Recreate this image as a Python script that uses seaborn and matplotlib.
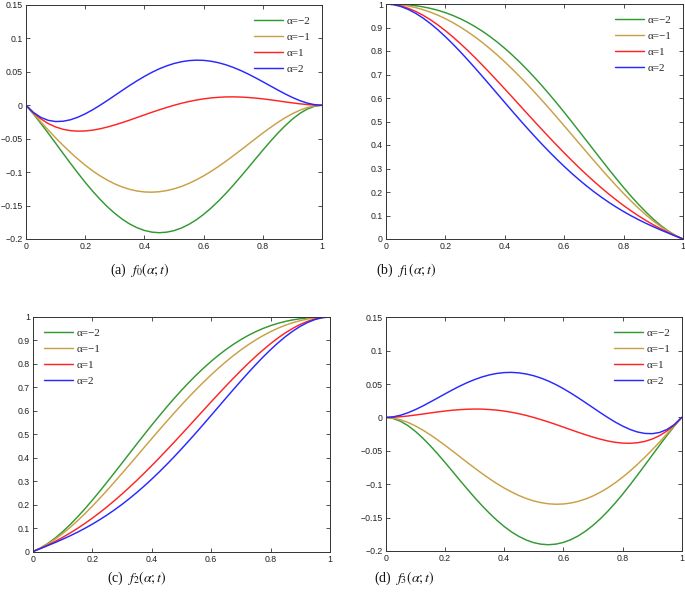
import matplotlib
matplotlib.use("Agg")
import matplotlib.pyplot as plt
import numpy as np
import pandas as pd
import seaborn as sns

# ---------------- data ----------------
t = [0, 0.025, 0.05, 0.075, 0.1, 0.125, 0.15, 0.175, 0.2, 0.225, 0.25,
     0.275, 0.3, 0.325, 0.35, 0.375, 0.4, 0.425, 0.45, 0.475, 0.5,
     0.525, 0.55, 0.575, 0.6, 0.625, 0.65, 0.675, 0.7, 0.725, 0.75,
     0.775, 0.8, 0.825, 0.85, 0.875, 0.9, 0.925, 0.95, 0.975, 1]

alpha_labels = ["α=−2", "α=−1", "α=1", "α=2"]
colors = ["#339933", "#c9a045", "#ff2424", "#2828ff"]

# (a) f0(alpha; t)
f0_m2 = [0, -0.0131, -0.0271, -0.0417, -0.0567, -0.0718, -0.0867, -0.1012, -0.1152, -0.1284, -0.1406,
         -0.1518, -0.1617, -0.1703, -0.1775, -0.1831, -0.1872, -0.1897, -0.1906, -0.1898, -0.1875,
         -0.1836, -0.1782, -0.1714, -0.1632, -0.1538, -0.1433, -0.1319, -0.1197, -0.1069, -0.0938,
         -0.0804, -0.0672, -0.0543, -0.0421, -0.0308, -0.0207, -0.0122, -0.0057, -0.0015, 0]
f0_m1 = [0, -0.0125, -0.0248, -0.0369, -0.0486, -0.0598, -0.0704, -0.0804, -0.0896, -0.0980, -0.1055,
         -0.1120, -0.1176, -0.1222, -0.1257, -0.1282, -0.1296, -0.1300, -0.1293, -0.1276, -0.125,
         -0.1214, -0.1169, -0.1116, -0.1056, -0.0989, -0.0916, -0.0838, -0.0756, -0.0672, -0.0586,
         -0.0500, -0.0416, -0.0335, -0.0258, -0.0188, -0.0126, -0.0074, -0.0034, -0.0009, 0]
f0_p1 = [0, -0.0113, -0.0203, -0.0273, -0.0324, -0.0359, -0.0379, -0.0387, -0.0384, -0.0372, -0.0352,
         -0.0325, -0.0294, -0.0259, -0.0222, -0.0183, -0.0144, -0.0105, -0.0068, -0.0033, 0,
         0.0030, 0.0056, 0.0078, 0.0096, 0.0110, 0.0119, 0.0125, 0.0126, 0.0123, 0.0117,
         0.0108, 0.0096, 0.0082, 0.0067, 0.0051, 0.0036, 0.0022, 0.0011, 0.0003, 0]
f0_p2 = [0, -0.0107, -0.0181, -0.0225, -0.0243, -0.0239, -0.0217, -0.0179, -0.0128, -0.0068, 0,
         0.0072, 0.0147, 0.0222, 0.0296, 0.0366, 0.0432, 0.0492, 0.0545, 0.0589, 0.0625,
         0.0651, 0.0668, 0.0675, 0.0672, 0.0659, 0.0637, 0.0606, 0.0567, 0.0521, 0.0469,
         0.0412, 0.0352, 0.0291, 0.0230, 0.0171, 0.0117, 0.0070, 0.0033, 0.0009, 0]

# (b) f1(alpha; t)
f1_m2 = [1, 0.9996, 0.9985, 0.9962, 0.9927, 0.9878, 0.9813, 0.9732, 0.9632, 0.9513, 0.9375,
         0.9216, 0.9037, 0.8837, 0.8616, 0.8374, 0.8112, 0.7830, 0.7530, 0.7211, 0.6875,
         0.6524, 0.6158, 0.5780, 0.5392, 0.4995, 0.4592, 0.4185, 0.3777, 0.3371, 0.2969,
         0.2575, 0.2192, 0.1824, 0.1475, 0.1147, 0.0847, 0.0577, 0.0343, 0.0149, 0]
f1_m1 = [1, 0.9991, 0.9962, 0.9914, 0.9846, 0.9758, 0.9651, 0.9523, 0.9376, 0.9209, 0.9023,
         0.8819, 0.8596, 0.8356, 0.8098, 0.7825, 0.7536, 0.7233, 0.6917, 0.6589, 0.625,
         0.5902, 0.5546, 0.5183, 0.4816, 0.4446, 0.4074, 0.3704, 0.3336, 0.2973, 0.2617,
         0.2271, 0.1936, 0.1616, 0.1312, 0.1028, 0.0766, 0.0529, 0.0321, 0.0143, 0]
f1_p1 = [1, 0.9979, 0.9917, 0.9818, 0.9684, 0.9519, 0.9326, 0.9106, 0.8864, 0.8601, 0.8320,
         0.8024, 0.7714, 0.7393, 0.7063, 0.6726, 0.6384, 0.6039, 0.5692, 0.5345, 0.5,
         0.4658, 0.4321, 0.3989, 0.3664, 0.3347, 0.3039, 0.2741, 0.2454, 0.2178, 0.1914,
         0.1663, 0.1424, 0.1199, 0.0987, 0.0789, 0.0604, 0.0433, 0.0276, 0.0131, 0]
f1_p2 = [1, 0.9973, 0.9894, 0.9769, 0.9603, 0.9399, 0.9163, 0.8898, 0.8608, 0.8297, 0.7969,
         0.7626, 0.7273, 0.6912, 0.6546, 0.6177, 0.5808, 0.5441, 0.5079, 0.4723, 0.4375,
         0.4036, 0.3708, 0.3392, 0.3088, 0.2798, 0.2522, 0.2260, 0.2013, 0.1781, 0.1563,
         0.1359, 0.1168, 0.0990, 0.0824, 0.0669, 0.0523, 0.0385, 0.0253, 0.0125, 0]

# (c) f2(alpha; t)
f2_m2 = [0, 0.0149, 0.0343, 0.0577, 0.0847, 0.1147, 0.1475, 0.1824, 0.2192, 0.2575, 0.2969,
         0.3371, 0.3777, 0.4185, 0.4592, 0.4995, 0.5392, 0.5780, 0.6158, 0.6524, 0.6875,
         0.7211, 0.7530, 0.7830, 0.8112, 0.8374, 0.8616, 0.8837, 0.9037, 0.9216, 0.9375,
         0.9513, 0.9632, 0.9732, 0.9813, 0.9878, 0.9927, 0.9962, 0.9985, 0.9996, 1]
f2_m1 = [0, 0.0143, 0.0321, 0.0529, 0.0766, 0.1028, 0.1312, 0.1616, 0.1936, 0.2271, 0.2617,
         0.2973, 0.3336, 0.3704, 0.4074, 0.4446, 0.4816, 0.5183, 0.5546, 0.5902, 0.625,
         0.6589, 0.6917, 0.7233, 0.7536, 0.7825, 0.8098, 0.8356, 0.8596, 0.8819, 0.9023,
         0.9209, 0.9376, 0.9523, 0.9651, 0.9758, 0.9846, 0.9914, 0.9962, 0.9991, 1]
f2_p1 = [0, 0.0131, 0.0276, 0.0433, 0.0604, 0.0789, 0.0987, 0.1199, 0.1424, 0.1663, 0.1914,
         0.2178, 0.2454, 0.2741, 0.3039, 0.3347, 0.3664, 0.3989, 0.4321, 0.4658, 0.5,
         0.5345, 0.5692, 0.6039, 0.6384, 0.6726, 0.7063, 0.7393, 0.7714, 0.8024, 0.8320,
         0.8601, 0.8864, 0.9106, 0.9326, 0.9519, 0.9684, 0.9818, 0.9917, 0.9979, 1]
f2_p2 = [0, 0.0125, 0.0253, 0.0385, 0.0523, 0.0669, 0.0824, 0.0990, 0.1168, 0.1359, 0.1563,
         0.1781, 0.2013, 0.2260, 0.2522, 0.2798, 0.3088, 0.3392, 0.3708, 0.4036, 0.4375,
         0.4723, 0.5079, 0.5441, 0.5808, 0.6177, 0.6546, 0.6912, 0.7273, 0.7626, 0.7969,
         0.8297, 0.8608, 0.8898, 0.9163, 0.9399, 0.9603, 0.9769, 0.9894, 0.9973, 1]

# (d) f3(alpha; t)
f3_m2 = [0, -0.0015, -0.0057, -0.0122, -0.0207, -0.0308, -0.0421, -0.0543, -0.0672, -0.0804, -0.0938,
         -0.1069, -0.1197, -0.1319, -0.1433, -0.1538, -0.1632, -0.1714, -0.1782, -0.1836, -0.1875,
         -0.1898, -0.1906, -0.1897, -0.1872, -0.1831, -0.1775, -0.1703, -0.1617, -0.1518, -0.1406,
         -0.1284, -0.1152, -0.1012, -0.0867, -0.0718, -0.0567, -0.0417, -0.0271, -0.0131, 0]
f3_m1 = [0, -0.0009, -0.0034, -0.0074, -0.0126, -0.0188, -0.0258, -0.0335, -0.0416, -0.0500, -0.0586,
         -0.0672, -0.0756, -0.0838, -0.0916, -0.0989, -0.1056, -0.1116, -0.1169, -0.1214, -0.125,
         -0.1276, -0.1293, -0.1300, -0.1296, -0.1282, -0.1257, -0.1222, -0.1176, -0.1120, -0.1055,
         -0.0980, -0.0896, -0.0804, -0.0704, -0.0598, -0.0486, -0.0369, -0.0248, -0.0125, 0]
f3_p1 = [0, 0.0003, 0.0011, 0.0022, 0.0036, 0.0051, 0.0067, 0.0082, 0.0096, 0.0108, 0.0117,
         0.0123, 0.0126, 0.0125, 0.0119, 0.0110, 0.0096, 0.0078, 0.0056, 0.0030, 0,
         -0.0033, -0.0068, -0.0105, -0.0144, -0.0183, -0.0222, -0.0259, -0.0294, -0.0325, -0.0352,
         -0.0372, -0.0384, -0.0387, -0.0379, -0.0359, -0.0324, -0.0273, -0.0203, -0.0113, 0]
f3_p2 = [0, 0.0009, 0.0033, 0.0070, 0.0117, 0.0171, 0.0230, 0.0291, 0.0352, 0.0412, 0.0469,
         0.0521, 0.0567, 0.0606, 0.0637, 0.0659, 0.0672, 0.0675, 0.0668, 0.0651, 0.0625,
         0.0589, 0.0545, 0.0492, 0.0432, 0.0366, 0.0296, 0.0222, 0.0147, 0.0072, 0,
         -0.0068, -0.0128, -0.0179, -0.0217, -0.0239, -0.0243, -0.0225, -0.0181, -0.0107, 0]

xticks = [0, 0.2, 0.4, 0.6, 0.8, 1]
xtick_labels = ["0", "0.2", "0.4", "0.6", "0.8", "1"]
yticks_small = [-0.2, -0.15, -0.1, -0.05, 0, 0.05, 0.1, 0.15]
ytick_labels_small = ["−0.2", "−0.15", "−0.1", "−0.05", "0", "0.05", "0.1", "0.15"]
yticks_unit = [0, 0.1, 0.2, 0.3, 0.4, 0.5, 0.6, 0.7, 0.8, 0.9, 1]
ytick_labels_unit = ["0", "0.1", "0.2", "0.3", "0.4", "0.5", "0.6", "0.7", "0.8", "0.9", "1"]

captions = [r"(a)  $f_0(\alpha;t)$", r"(b)  $f_1(\alpha;t)$",
            r"(c)  $f_2(\alpha;t)$", r"(d)  $f_3(\alpha;t)$"]

# ---------------- styling ----------------
sns.set_theme(style="ticks")
plt.rcParams["font.family"] = ["Liberation Sans", "DejaVu Sans"]
plt.rcParams["mathtext.fontset"] = "stix"
plt.rcParams["axes.linewidth"] = 0.7
plt.rcParams["axes.edgecolor"] = "#333333"

fig = plt.figure(figsize=(6.85, 6.01), dpi=100)

W, H = 685.0, 601.0
def pos(left, top, right, bottom):
    return [left / W, (H - bottom) / H, (right - left) / W, (bottom - top) / H]

panels = [
    dict(series=[f0_m2, f0_m1, f0_p1, f0_p2], box=pos(26, 5, 322, 239),
         ylim=(-0.2, 0.15), yt=yticks_small, ytl=ytick_labels_small,
         leg=dict(loc="upper right", bbox_to_anchor=(1.0, 1.0)),
         cpos=(140, 270)),
    dict(series=[f1_m2, f1_m1, f1_p1, f1_p2], box=pos(386, 4, 683, 239),
         ylim=(0, 1), yt=yticks_unit, ytl=ytick_labels_unit,
         leg=dict(loc="upper right", bbox_to_anchor=(1.0, 1.0)),
         cpos=(406, 270)),
    dict(series=[f2_m2, f2_m1, f2_p1, f2_p2], box=pos(33, 317, 330, 551.5),
         ylim=(0, 1), yt=yticks_unit, ytl=ytick_labels_unit,
         leg=dict(loc="upper left", bbox_to_anchor=(0.0, 1.0)),
         cpos=(137, 578)),
    dict(series=[f3_m2, f3_m1, f3_p1, f3_p2], box=pos(385.7, 317.3, 681.7, 551),
         ylim=(-0.2, 0.15), yt=yticks_small, ytl=ytick_labels_small,
         leg=dict(loc="upper right", bbox_to_anchor=(1.0, 1.0)),
         cpos=(404, 578)),
]

for p, cap_text in zip(panels, captions):
    ax = fig.add_axes(p["box"])
    rows = []
    for lab, vals in zip(alpha_labels, p["series"]):
        for tv, v in zip(t, vals):
            rows.append({"t": tv, "v": v, "a": lab})
    df = pd.DataFrame(rows)
    sns.lineplot(data=df, x="t", y="v", hue="a", hue_order=alpha_labels,
                 palette=colors, estimator=None, sort=False, linewidth=1.05,
                 ax=ax)
    ax.set_xlim(0, 1)
    ax.set_ylim(*p["ylim"])
    ax.set_xticks(xticks)
    ax.set_xticklabels(xtick_labels)
    ax.set_yticks(p["yt"])
    ax.set_yticklabels(p["ytl"])
    ax.set_xlabel("")
    ax.set_ylabel("")
    for s in ax.spines.values():
        s.set_visible(True)
    ax.tick_params(direction="in", top=True, right=True, length=3, width=0.6,
                   labelsize=6.3, pad=2.2, colors="#333333", labelcolor="#222222")
    handles, labels = ax.get_legend_handles_labels()
    ax.legend(handles, labels, frameon=False,
              prop={"family": "Liberation Serif", "size": 8},
              handlelength=2.6, handletextpad=0.35, labelspacing=0.55,
              borderaxespad=0.6, **p["leg"])
    cx, cy = p["cpos"]
    fig.text(cx / W, (H - cy) / H, cap_text, ha="center", va="center",
             family="Liberation Serif", fontsize=10, color="#111111")

fig.savefig("out.png", dpi=100)
